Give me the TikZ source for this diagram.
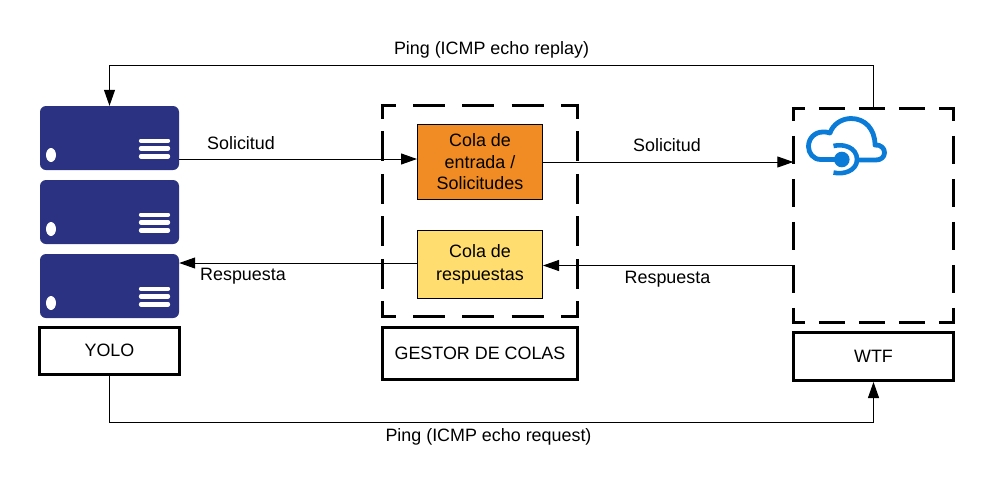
\documentclass[tikz,border=0pt]{standalone}
\usepackage{fontspec}
\setmainfont{Liberation Sans}
\usetikzlibrary{arrows.meta}
\definecolor{srv}{HTML}{2A3281}
\definecolor{cloudc}{HTML}{0A7CD8}
\definecolor{orangeq}{HTML}{F08C23}
\definecolor{yellowq}{HTML}{FFDD6F}
\tikzset{
  lab/.style={font=\fontsize{17.9}{21.5}\selectfont,align=center,inner sep=0pt},
  server/.style={fill=srv,draw=none,rounded corners=6pt,minimum width=139pt,minimum height=64pt,inner sep=0pt},
  capbox/.style={draw=black,line width=3pt,fill=white,font=\fontsize{17.9}{21.5}\selectfont,inner sep=0pt},
  queue/.style={draw=black,line width=1pt,font=\fontsize{17.9}{21.5}\selectfont,align=center,minimum width=125pt,inner sep=0pt},
  frame/.style={inner sep=0pt},
  side/.style={line width=3pt,line cap=butt},
  conn/.style={line width=1pt,draw=black},
  tip/.style={-{Triangle[length=16pt,width=11pt]}},
  bar/.style={white,line width=4.4pt,line cap=round},
  cloudline/.style={draw=cloudc,line width=4.8pt}
}
\begin{document}
\begin{tikzpicture}[x=1pt,y=-1pt]
\useasboundingbox (0,0) rectangle (993,488);
\fill[white] (0,0) rectangle (993,488);

% servers
\foreach \n/\y in {s1/138,s2/212,s3/286}{
  \node[server] (\n) at (109.5,\y) {};
  \fill[white] (51,\y+17) ellipse (5 and 7);
  \foreach \d in {2.7,10.3,18.3}
    \draw[bar] (141,\y+\d) -- (168,\y+\d);
}
% caption boxes
\node[capbox,minimum width=140pt,minimum height=47pt] (yolo) at (109.5,351) {\raisebox{1pt}{YOLO}};
\node[capbox,minimum width=195pt,minimum height=52pt] (gestor) at (480,353.5) {GESTOR DE COLAS};
\node[capbox,minimum width=160pt,minimum height=48pt] (wtf) at (873.5,356.5) {WTF};

% dashed frames
\node[frame,minimum width=195pt,minimum height=211pt] (gd) at (480,211) {};
\node[frame,minimum width=160pt,minimum height=214pt] (wd) at (873.5,215.5) {};

% queues
\node[queue,fill=orangeq,minimum height=75pt] (orange) at (480,162) {\raisebox{1pt}{Cola de}\\entrada /\\\raisebox{1pt}{Solicitudes}};
\node[queue,fill=yellowq,minimum height=68pt] (yellow) at (480,264.5) {\raisebox{1pt}{Cola de}\\\raisebox{-1pt}{respuestas}};

% connectors
\draw[conn,tip] (wd.north) -- (wd.north |- 0,65.5) -- (s1.north |- 0,65.5) -- (s1.north);
\draw[conn,tip] (yolo.south) -- (yolo.south |- 0,422) -- (wtf.south |- 0,422) -- (wtf.south);
\draw[conn,tip] (s1.east |- 0,159) -- (orange.west |- 0,159);
\draw[conn,tip] (orange.east) -- (orange.east -| wd.west);
\draw[conn,tip] (wd.west |- 0,265.5) -- (yellow.east |- 0,265.5);
\draw[conn,tip] (yellow.west |- 0,263) -- (s3.east |- 0,263);

% dashed sides
\begin{scope}[side]
\draw[dash pattern=on 32pt off 17.3pt,dash phase=17pt] ([xshift=-1.5pt]gd.north west) -- ([xshift=1.5pt]gd.north east);
\draw[dash pattern=on 32pt off 17.3pt,dash phase=17pt] ([xshift=-1.5pt]gd.south west) -- ([xshift=1.5pt]gd.south east);
\draw[dash pattern=on 30pt off 12.5pt,dash phase=15pt] ([yshift=1.5pt]gd.north west) -- ([yshift=-1.5pt]gd.south west);
\draw[dash pattern=on 30pt off 12.5pt,dash phase=15pt] ([yshift=1.5pt]gd.north east) -- ([yshift=-1.5pt]gd.south east);
\draw[dash pattern=on 26pt off 14pt,dash phase=13pt] ([xshift=-1.5pt]wd.north west) -- ([xshift=1.5pt]wd.north east);
\draw[dash pattern=on 26pt off 14pt,dash phase=13pt] ([xshift=-1.5pt]wd.south west) -- ([xshift=1.5pt]wd.south east);
\draw[dash pattern=on 28pt off 15pt,dash phase=14pt] ([yshift=1.5pt]wd.north west) -- ([yshift=-1.5pt]wd.south west);
\draw[dash pattern=on 28pt off 15pt,dash phase=14pt] ([yshift=1.5pt]wd.north east) -- ([yshift=-1.5pt]wd.south east);
\end{scope}

% cloud icon
\draw[cloudline,line join=round] (838,159.5) -- (821,159.5)
  .. controls (813,159.5) and (808.5,153) .. (808.5,146.5)
  .. controls (808.5,138) and (815,132) .. (823,132)
  .. controls (825,132) and (828,132) .. (830,133)
  .. controls (833,124) and (842,118.5) .. (851,118.5)
  .. controls (865,118.5) and (875,129) .. (875,145)
  .. controls (881,144.5) and (884.5,148.5) .. (884.5,152.5)
  .. controls (884.5,157) and (881,160) .. (876,160)
  -- (858,160);
\fill[cloudc] (841.8,159.5) circle (7.8);
\draw[cloudline,line width=4.6pt] (833.5,146) .. controls (843,143.5) and (857,147) .. (857,159.5)
  .. controls (857,171) and (843,175) .. (833.5,172.5);

% labels
\node[lab] (l1) at (241,143.5) {Solicitud};
\node[lab] (l2) at (667,145) {Solicitud};
\node[lab] (l3) at (243,276.5) {Respuesta};
\node[lab] (l4) at (667.5,279.5) {Respuesta};
\node[lab] (l5) at (491.5,49.5) {Ping (ICMP echo replay)};
\node[lab] (l6) at (488.5,436.5) {Ping (ICMP echo request)};
\end{tikzpicture}
\end{document}
